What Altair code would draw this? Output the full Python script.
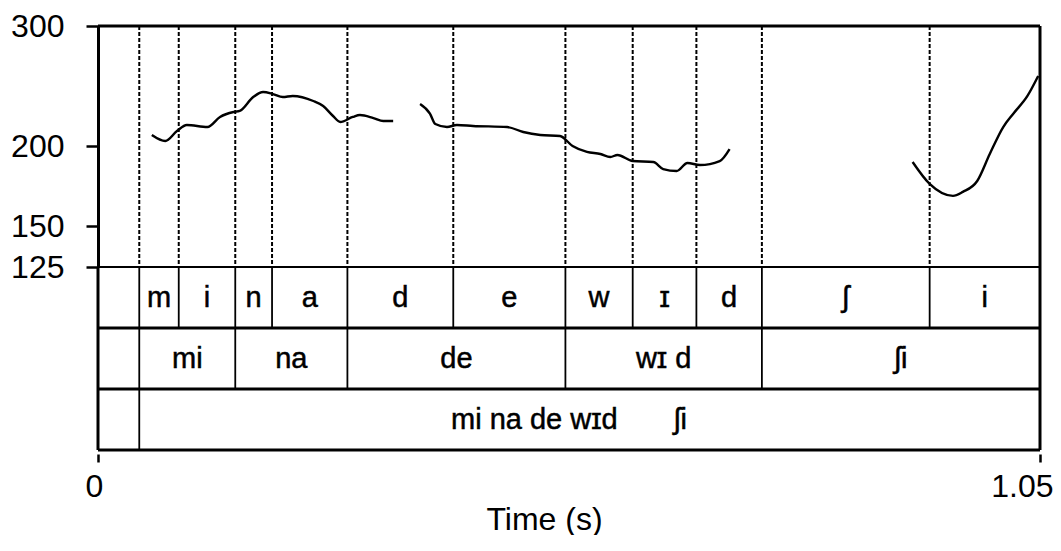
import altair as alt
import pandas as pd

FONT = "Liberation Sans"

# ---- pitch contour (time in s, F0 in Hz), three voiced stretches ----
seg1_t = [0.060, 0.075, 0.088, 0.099, 0.122, 0.136, 0.151, 0.158, 0.173, 0.184,
          0.195, 0.206, 0.217, 0.240, 0.251, 0.262, 0.270, 0.284, 0.292, 0.307,
          0.318, 0.329]
seg1_hz = [209.2, 204.2, 212.5, 217.5, 215.8, 224.2, 228.3, 229.2, 240.8, 245.0,
           243.3, 240.8, 241.7, 237.5, 233.3, 225.0, 220.0, 224.2, 225.8, 223.3,
           220.8, 220.8]
seg2_t = [0.359, 0.370, 0.376, 0.389, 0.400, 0.418, 0.456, 0.474, 0.493, 0.515,
          0.529, 0.545, 0.560, 0.571, 0.579, 0.596, 0.619, 0.630, 0.645, 0.657,
          0.671, 0.693, 0.704]
seg2_hz = [235.0, 227.0, 218.3, 215.8, 217.5, 216.7, 215.8, 211.7, 209.2, 208.3,
           200.0, 196.3, 195.0, 193.1, 194.4, 190.6, 190.0, 185.6, 184.4, 189.4,
           188.1, 190.6, 198.1]
seg3_t = [0.908, 0.927, 0.953, 0.964, 0.980, 0.994, 1.009, 1.020, 1.036, 1.048]
seg3_hz = [190.0, 176.3, 168.8, 171.3, 178.1, 195.0, 215.8, 226.7, 241.7, 258.3]

# ---- y axis ticks (Hz) ----
y_ticks = [125, 150, 200, 300]

# ---- TextGrid tiers ----
phone_labels = ["", "m", "i", "n", "a", "d", "e", "w", "\u026a", "d", "\u0283", "i"]
phone_bounds = [0, 0.046, 0.090, 0.153, 0.194, 0.278, 0.396, 0.521, 0.596, 0.667,
                0.740, 0.927, 1.05]
syll_labels = ["", "mi", "na", "de", "w\u026a d", "\u0283i"]
syll_bounds = [0, 0.046, 0.153, 0.278, 0.521, 0.740, 1.05]
phrase_labels = ["", "mi na de w\u026ad" + "\u00a0" * 7 + "\u0283i"]
phrase_bounds = [0, 0.046, 1.05]

t_end = phone_bounds[-1]

# ---- tables ----
pitch_rows = []
for name, ts, hz in (("s1", seg1_t, seg1_hz), ("s2", seg2_t, seg2_hz), ("s3", seg3_t, seg3_hz)):
    for t, f in zip(ts, hz):
        pitch_rows.append({"seg": name, "t": t, "hz": f})
pitch_df = pd.DataFrame(pitch_rows)

int_rows = []
tier_list = ((phone_bounds, phone_labels), (syll_bounds, syll_labels), (phrase_bounds, phrase_labels))
for r, (bounds, labels) in enumerate(tier_list):
    for i, lab in enumerate(labels):
        s, e = bounds[i], bounds[i + 1]
        # the phrase label is centred over the whole utterance
        mid = (bounds[0] + bounds[-1]) / 2 if r == len(tier_list) - 1 else (s + e) / 2
        int_rows.append({"row": r, "start": s, "end": e, "mid": mid, "label": lab})
int_df = pd.DataFrame(int_rows)

phone_start_df = pd.DataFrame({"t": [b for b in phone_bounds[:-1] if b > 0]})
n_tiers = int(int_df["row"].max()) + 1
sep_df = pd.DataFrame({"y": list(range(1, n_tiers + 1))})
edge_df = pd.DataFrame({"t": [phone_bounds[0], t_end]})

W = 942
xs = alt.Scale(domain=[0, t_end], nice=False, zero=False)
ys = alt.Scale(domain=y_ticks, range=[241, 200, 120, 0], nice=False, zero=False)

# ---- pitch panel ----
dashed = alt.Chart(phone_start_df).mark_rule(
    color="black", strokeWidth=2, strokeDash=[4, 2]
).encode(x=alt.X("t:Q", scale=xs, axis=None))

line = alt.Chart(pitch_df).mark_line(
    color="black", strokeWidth=2.4, interpolate="monotone"
).encode(
    x=alt.X("t:Q", scale=xs, axis=None),
    y=alt.Y("hz:Q", scale=ys,
            axis=alt.Axis(values=y_ticks, title=None, grid=False,
                          labelFontSize=32, labelFont=FONT, labelColor="black",
                          tickSize=12, tickWidth=2.5, tickColor="black",
                          domainWidth=3, domainColor="black", labelPadding=22)),
    detail="seg:N",
)

top_rule = alt.Chart(pd.DataFrame({"hz": [y_ticks[-1]]})).mark_rule(
    color="black", strokeWidth=3).encode(y=alt.Y("hz:Q", scale=ys))
bot_rule = alt.Chart(pd.DataFrame({"hz": [y_ticks[0]]})).mark_rule(
    color="black", strokeWidth=2).encode(y=alt.Y("hz:Q", scale=ys))
right_rule = alt.Chart(pd.DataFrame({"t": [t_end]})).mark_rule(
    color="black", strokeWidth=3).encode(x=alt.X("t:Q", scale=xs, axis=None))

pitch = alt.layer(dashed, line, top_rule, bot_rule, right_rule).properties(width=W, height=241)

# ---- tier panel ----
ts_ = alt.Scale(domain=[0, n_tiers], reverse=True, nice=False, zero=False)

xaxis = alt.Axis(values=[0, t_end], format="~g", title="Time (s)", grid=False,
                 domain=False, tickSize=8, tickWidth=2.5, tickColor="black",
                 offset=4, labelFontSize=32, labelFont=FONT, labelColor="black",
                 labelPadding=9, labelFlush=True, labelFlushOffset=13,
                 titleFontSize=32, titleFont=FONT, titleFontWeight="normal",
                 titleColor="black", titlePadding=2, titleX=446)

texts = alt.Chart(int_df).transform_calculate(
    ymid="datum.row + 0.5"
).mark_text(font=FONT, fontSize=29, color="black", stroke="black", strokeWidth=0.5,
            baseline="middle", align="center").encode(
    x=alt.X("mid:Q", scale=xs, axis=xaxis),
    y=alt.Y("ymid:Q", scale=ts_, axis=None),
    text="label:N",
)

bounds_rules = alt.Chart(int_df).transform_filter("datum.start > 0").transform_calculate(
    r2="datum.row + 1"
).mark_rule(color="black", strokeWidth=1.8).encode(
    x=alt.X("start:Q", scale=xs),
    y=alt.Y("row:Q", scale=ts_),
    y2="r2:Q",
)

seps = alt.Chart(sep_df).mark_rule(color="black", strokeWidth=3).encode(
    y=alt.Y("y:Q", scale=ts_))
edges = alt.Chart(edge_df).mark_rule(color="black", strokeWidth=3).encode(
    x=alt.X("t:Q", scale=xs))

tiers = alt.layer(texts, bounds_rules, seps, edges).properties(width=W, height=183)

chart = alt.vconcat(pitch, tiers, spacing=0, bounds="flush").properties(
    padding={"left": 2, "top": 2, "right": 0, "bottom": 0},
    background="white",
).configure_view(stroke=None)

chart.save("out.html", embed_options={"renderer": "svg", "actions": False})
